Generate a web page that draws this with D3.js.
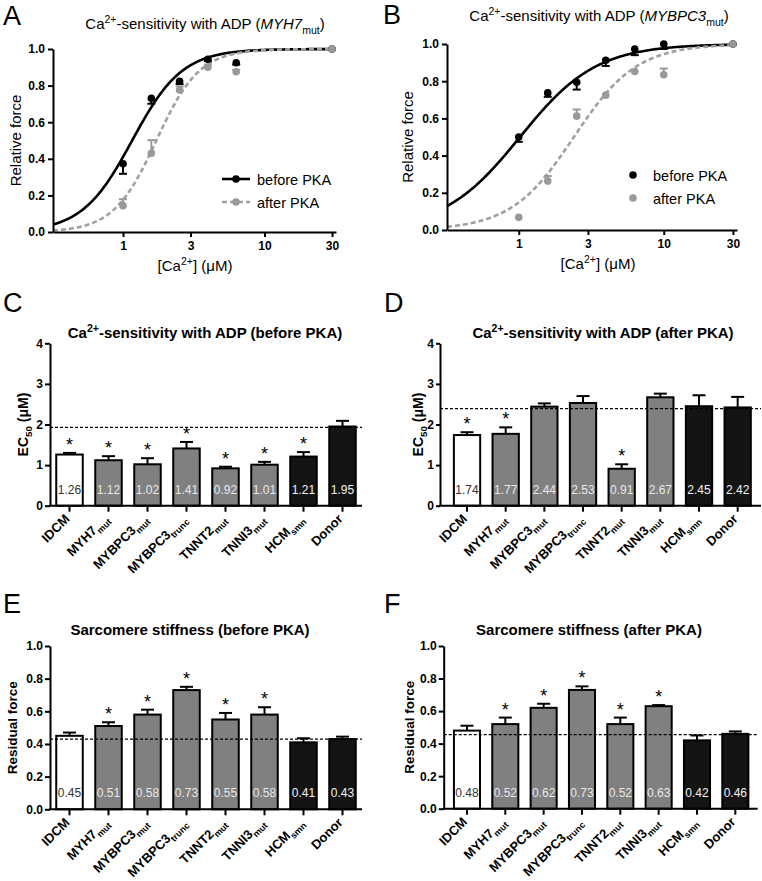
<!DOCTYPE html>
<html>
<head>
<meta charset="utf-8">
<script src="https://cdn.jsdelivr.net/npm/d3@7"></script>
<style>
  body { margin: 0; background: #fff; }
  svg text { font-family: "Liberation Sans", Arial, Helvetica, sans-serif; }
</style>
</head>
<body>
<svg id="fig" width="762" height="881"></svg>
<script>
// ---------- data: panel A (MYH7mut) ----------
var concA = [1, 1.585, 2.51, 3.98, 6.31, 30];
var beforeA = [0.373, 0.731, 0.824, 0.944, 0.925, 1.0];
var beforeAErr = [0.055, 0.03, 0.015, 0.01, 0.01, 0];
var afterA = [0.144, 0.43, 0.776, 0.90, 0.876, 1.0];
var afterAErr = [0.035, 0.072, 0.02, 0.015, 0.01, 0];
var fitEC50A = [1.16, 1.72];   // before, after
var fitHillA = [2.45, 2.85];

// ---------- data: panel B (MYBPC3mut) ----------
var concB = [1, 1.585, 2.51, 3.98, 6.31, 10, 30];
var beforeB = [0.50, 0.737, 0.794, 0.912, 0.973, 1.0, 1.0];
var beforeBErr = [0.026, 0.021, 0.039, 0.03, 0.033, 0.027, 0];
var afterB = [0.068, 0.263, 0.612, 0.725, 0.852, 0.835, 1.0];
var afterBErr = [0.0, 0.027, 0.036, 0.0, 0.0, 0.033, 0];
var fitEC50B = [1.02, 2.4];
var fitHillB = [1.65, 2.0];

var caTicks = [1, 3, 10, 30];
var forceTicks = [0, 0.2, 0.4, 0.6, 0.8, 1.0];

// ---------- data: bar panels ----------
var groupNames = ["IDCM", "MYH7", "MYBPC3", "MYBPC3", "TNNT2", "TNNI3", "HCM", "Donor"];
var groupSubs = ["", "mut", "mut", "trunc", "mut", "mut", "smn", ""];
var groupKind = ["idcm", "mut", "mut", "mut", "mut", "mut", "smn", "donor"];

var ec50Before = [1.26, 1.12, 1.02, 1.41, 0.92, 1.01, 1.21, 1.95];
var ec50BeforeErr = [0.04, 0.10, 0.15, 0.16, 0.04, 0.07, 0.11, 0.14];
var ec50BeforeSig = [1, 1, 1, 1, 1, 1, 1, 0];
var ec50BeforeRef = 1.93;

var ec50After = [1.74, 1.77, 2.44, 2.53, 0.91, 2.67, 2.45, 2.42];
var ec50AfterErr = [0.07, 0.16, 0.08, 0.17, 0.11, 0.09, 0.27, 0.26];
var ec50AfterSig = [1, 1, 0, 0, 1, 0, 0, 0];
var ec50AfterRef = 2.39;

var stiffBefore = [0.45, 0.51, 0.58, 0.73, 0.55, 0.58, 0.41, 0.43];
var stiffBeforeErr = [0.02, 0.023, 0.03, 0.02, 0.04, 0.045, 0.025, 0.015];
var stiffBeforeSig = [0, 1, 1, 1, 1, 1, 0, 0];
var stiffBeforeRef = 0.43;

var stiffAfter = [0.48, 0.52, 0.62, 0.73, 0.52, 0.63, 0.42, 0.46];
var stiffAfterErr = [0.03, 0.04, 0.025, 0.022, 0.04, 0.007, 0.03, 0.015];
var stiffAfterSig = [0, 1, 1, 1, 1, 1, 0, 0];
var stiffAfterRef = 0.455;

var ec50Ticks = [0, 1, 2, 3, 4];
var stiffTicks = [0, 0.2, 0.4, 0.6, 0.8, 1.0];

// ---------- helpers ----------
var svg = d3.select("#fig");
var FONT = '"Liberation Sans", Arial, Helvetica, sans-serif';

// text with super/subscript and italic pieces
function rich(text, parts) {
    var fs = +text.attr("font-size");
    var shift = 0;
    parts.forEach(function (p) {
        var ts = text.append("tspan").text(p.t);
        var target = p.sup ? -0.42 * fs : (p.sub ? 0.3 * fs : 0);
        if (target !== shift) ts.attr("dy", target - shift);
        shift = target;
        if (p.sup || p.sub) ts.attr("font-size", fs * 0.7);
        if (p.it) ts.attr("font-style", "italic");
    });
}

function styleAxis(g) {
    g.attr("font-family", FONT).attr("font-size", 12).attr("font-weight", "bold");
    g.selectAll("path, line").attr("stroke", "#000").attr("stroke-width", 2);
    g.selectAll("text").attr("fill", "#000");
}

function letter(x, y, s) {
    svg.append("text").attr("x", x).attr("y", y)
        .attr("font-size", 27).text(s);
}

function hill(c, ec, n) {
    return Math.pow(c, n) / (Math.pow(c, n) + Math.pow(ec, n));
}

// ---------- dose-response panels ----------
function drawDose(cfg) {
    var g = svg.append("g");
    var x = d3.scaleLog().domain([0.32, 32]).range(cfg.xr);
    var y = d3.scaleLinear().domain([0, 1]).range(cfg.yr);

    // fitted curves
    var cs = d3.range(0, 201).map(function (i) { return 0.32 * Math.pow(100, i / 200); });
    cs = cs.filter(function (c) { return x(c) <= cfg.xr[1]; });
    var line = d3.line().x(function (c) { return x(c[0]); }).y(function (c) { return y(c[1]); });
    g.append("path")
        .attr("d", line(cs.map(function (c) { return [c, hill(c, cfg.ec[0], cfg.n[0])]; })))
        .attr("fill", "none").attr("stroke", "#000").attr("stroke-width", 2.6);
    g.append("path")
        .attr("d", line(cs.map(function (c) { return [c, hill(c, cfg.ec[1], cfg.n[1])]; })))
        .attr("fill", "none").attr("stroke", "#a0a0a0").attr("stroke-width", 2.6)
        .attr("stroke-dasharray", "5,3");

    // points with one-sided error bars
    var series = [
        {vals: cfg.before, err: cfg.beforeErr, dir: -1, color: "#000"},
        {vals: cfg.after, err: cfg.afterErr, dir: 1, color: "#999"}
    ];
    series.forEach(function (s) {
        var pts = cfg.conc.map(function (c, i) { return {c: c, v: s.vals[i], e: s.err[i]}; });
        var eb = g.append("g").selectAll("g").data(pts.filter(function (d) { return d.e > 0; }))
            .enter().append("g");
        eb.append("line")
            .attr("x1", function (d) { return x(d.c); }).attr("x2", function (d) { return x(d.c); })
            .attr("y1", function (d) { return y(d.v); })
            .attr("y2", function (d) { return y(d.v + s.dir * d.e); })
            .attr("stroke", s.color).attr("stroke-width", 2);
        eb.append("line")
            .attr("x1", function (d) { return x(d.c) - 4; }).attr("x2", function (d) { return x(d.c) + 4; })
            .attr("y1", function (d) { return y(d.v + s.dir * d.e); })
            .attr("y2", function (d) { return y(d.v + s.dir * d.e); })
            .attr("stroke", s.color).attr("stroke-width", 2);
        g.append("g").selectAll("circle").data(pts).enter().append("circle")
            .attr("cx", function (d) { return x(d.c); })
            .attr("cy", function (d) { return y(d.v); })
            .attr("r", 3.8).attr("fill", s.color);
    });

    // axes
    g.append("g").attr("transform", "translate(0," + cfg.yr[0] + ")")
        .call(d3.axisBottom(x).tickValues(caTicks).tickFormat(d3.format("d"))
            .tickSize(5).tickSizeOuter(0).tickPadding(4))
        .call(styleAxis);
    g.append("g").attr("transform", "translate(" + cfg.xr[0] + ",0)")
        .call(d3.axisLeft(y).tickValues(forceTicks).tickFormat(d3.format(".1f"))
            .tickSize(5).tickSizeOuter(0).tickPadding(3))
        .call(styleAxis);

    // labels
    var yl = g.append("text").attr("font-size", 15).attr("text-anchor", "middle")
        .attr("transform", "translate(" + (cfg.ylabX + 5) + "," + (cfg.yr[0] + cfg.yr[1]) / 2 + ") rotate(-90)");
    yl.text("Relative force");
    var xl = g.append("text").attr("font-size", 15).attr("text-anchor", "middle")
        .attr("x", cfg.xlabX).attr("y", cfg.yr[0] + 39);
    rich(xl, [{t: "[Ca"}, {t: "2+", sup: true}, {t: "] (\u03bcM)"}]);
    var tl = g.append("text").attr("font-size", 15).attr("text-anchor", "middle")
        .attr("x", cfg.titleX).attr("y", cfg.titleY);
    rich(tl, [{t: "Ca"}, {t: "2+", sup: true}, {t: "-sensitivity with ADP ("},
        {t: cfg.gene, it: true}, {t: "mut", sub: true}, {t: ")"}]);

    // legend
    var lg = g.append("g");
    [["before PKA", "#000", false], ["after PKA", "#999", true]].forEach(function (d, i) {
        var ly = cfg.legY + i * 23;
        if (cfg.legLine) {
            lg.append("line").attr("x1", cfg.legX - 14).attr("x2", cfg.legX + 14)
                .attr("y1", ly).attr("y2", ly)
                .attr("stroke", d[1] === "#000" ? "#000" : "#a0a0a0").attr("stroke-width", 2.6)
                .attr("stroke-dasharray", d[2] ? "5,3" : null);
        }
        lg.append("circle").attr("cx", cfg.legX).attr("cy", ly).attr("r", 3.8).attr("fill", d[1]);
        lg.append("text").attr("x", cfg.legTextX).attr("y", ly + 5.5)
            .attr("font-size", 14.5).text(d[0]);
    });
}

// ---------- bar panels ----------
var kindFill = {idcm: "#ffffff", mut: "#808080", smn: "#141414", donor: "#141414"};
var kindText = {idcm: "#333333", mut: "#e8e8e8", smn: "#f2f2f2", donor: "#f2f2f2"};

function drawBars(cfg) {
    var g = svg.append("g");
    var x = d3.scaleBand().domain(d3.range(groupNames.length)).range(cfg.band)
        .paddingInner(0.32).paddingOuter(0.16);
    var y = d3.scaleLinear().domain([0, cfg.ymax]).range(cfg.yr);
    var y0 = cfg.yr[0];
    var data = cfg.vals.map(function (v, i) {
        return {i: i, v: v, e: cfg.err[i], s: cfg.sig[i], k: groupKind[i]};
    });

    // error bars (upper only)
    var eb = g.append("g").selectAll("g").data(data).enter().append("g");
    eb.append("line")
        .attr("x1", function (d) { return x(d.i) + x.bandwidth() / 2; })
        .attr("x2", function (d) { return x(d.i) + x.bandwidth() / 2; })
        .attr("y1", function (d) { return y(d.v); })
        .attr("y2", function (d) { return y(d.v + d.e); })
        .attr("stroke", "#000").attr("stroke-width", 2);
    eb.append("line")
        .attr("x1", function (d) { return x(d.i) + x.bandwidth() / 2 - 6.5; })
        .attr("x2", function (d) { return x(d.i) + x.bandwidth() / 2 + 6.5; })
        .attr("y1", function (d) { return y(d.v + d.e); })
        .attr("y2", function (d) { return y(d.v + d.e); })
        .attr("stroke", "#000").attr("stroke-width", 2);

    // bars
    g.append("g").selectAll("rect").data(data).enter().append("rect")
        .attr("x", function (d) { return x(d.i); })
        .attr("y", function (d) { return y(d.v); })
        .attr("width", x.bandwidth())
        .attr("height", function (d) { return y0 - y(d.v); })
        .attr("fill", function (d) { return kindFill[d.k]; })
        .attr("stroke", "#000").attr("stroke-width", 2);

    // value labels inside bars
    g.append("g").selectAll("text").data(data).enter().append("text")
        .attr("x", function (d) { return x(d.i) + x.bandwidth() / 2; })
        .attr("y", y0 - 12)
        .attr("text-anchor", "middle").attr("font-size", 12)
        .attr("fill", function (d) { return kindText[d.k]; })
        .text(function (d) { return d3.format(cfg.valFmt)(d.v); });

    // significance stars
    g.append("g").selectAll("text").data(data.filter(function (d) { return d.s; }))
        .enter().append("text")
        .attr("x", function (d) { return x(d.i) + x.bandwidth() / 2; })
        .attr("y", function (d) { return y(d.v + d.e) - 2; })
        .attr("text-anchor", "middle").attr("font-size", 18)
        .text("*");

    // reference (donor) dashed line
    g.append("line")
        .attr("x1", cfg.axisX).attr("x2", cfg.axisEnd)
        .attr("y1", y(cfg.ref)).attr("y2", y(cfg.ref))
        .attr("stroke", "#000").attr("stroke-width", 1.3).attr("stroke-dasharray", "3,2");

    // axes
    g.append("g").attr("transform", "translate(" + cfg.axisX + ",0)")
        .call(d3.axisLeft(y).tickValues(cfg.ticks).tickFormat(d3.format(cfg.tickFmt))
            .tickSize(cfg.tickSize).tickSizeOuter(0).tickPadding(2))
        .call(styleAxis);
    var xa = g.append("g").attr("transform", "translate(0," + y0 + ")")
        .call(d3.axisBottom(x).tickSize(6).tickSizeOuter(0).tickFormat(""))
        .call(styleAxis);
    xa.select(".domain").remove();
    g.append("line").attr("x1", cfg.axisX - 1).attr("x2", cfg.axisEnd)
        .attr("y1", y0).attr("y2", y0).attr("stroke", "#000").attr("stroke-width", 2);

    // rotated category labels
    data.forEach(function (d) {
        var cx = x(d.i) + x.bandwidth() / 2;
        var t = g.append("text").attr("font-size", 13).attr("font-weight", "bold")
            .attr("text-anchor", "end")
            .attr("transform", "translate(" + (cx + 1) + "," + (y0 + 14) + ") rotate(-45)");
        var parts = [{t: groupNames[d.i]}];
        if (groupSubs[d.i]) parts.push({t: groupSubs[d.i], sub: true});
        rich(t, parts);
    });

    // y label
    var yl = g.append("text").attr("font-size", cfg.ylabSize).attr("font-weight", "bold")
        .attr("text-anchor", "middle")
        .attr("transform", "translate(" + (cfg.ylabX + 5) + "," + (cfg.yr[0] + cfg.yr[1]) / 2 + ") rotate(-90)");
    rich(yl, cfg.ylab);

    // title
    var tl = g.append("text").attr("font-size", 15).attr("font-weight", "bold")
        .attr("text-anchor", "middle").attr("x", cfg.titleX).attr("y", cfg.titleY);
    rich(tl, cfg.title);
}

// ---------- draw ----------
letter(3, 25, "A");
drawDose({
    xr: [53, 336], yr: [232, 49], conc: concA,
    before: beforeA, beforeErr: beforeAErr, after: afterA, afterErr: afterAErr,
    ec: fitEC50A, n: fitHillA, gene: "MYH7",
    ylabX: 16, xlabX: 195, titleX: 205, titleY: 29,
    legLine: true, legX: 236, legTextX: 257, legY: 179
});

letter(383, 24, "B");
drawDose({
    xr: [447, 737], yr: [230, 44], conc: concB,
    before: beforeB, beforeErr: beforeBErr, after: afterB, afterErr: afterBErr,
    ec: fitEC50B, n: fitHillB, gene: "MYBPC3",
    ylabX: 408, xlabX: 598, titleX: 599, titleY: 21,
    legLine: false, legX: 633, legTextX: 653, legY: 175
});

var ec50Label = [{t: "EC"}, {t: "50", sub: true}, {t: " (\u03bcM)"}];

letter(3, 312, "C");
drawBars({
    vals: ec50Before, err: ec50BeforeErr, sig: ec50BeforeSig, ref: ec50BeforeRef,
    band: [50, 362], axisX: 50, axisEnd: 362, yr: [505.7, 343.3], ymax: 4,
    ticks: ec50Ticks, tickFmt: "d", valFmt: ".2f", tickSize: 5,
    ylab: ec50Label, ylabX: 23, ylabSize: 14,
    title: [{t: "Ca"}, {t: "2+", sup: true}, {t: "-sensitivity with ADP (before PKA)"}],
    titleX: 205, titleY: 338
});

letter(384, 312, "D");
drawBars({
    vals: ec50After, err: ec50AfterErr, sig: ec50AfterSig, ref: ec50AfterRef,
    band: [447.7, 757], axisX: 440, axisEnd: 761, yr: [505.7, 343.3], ymax: 4,
    ticks: ec50Ticks, tickFmt: "d", valFmt: ".2f", tickSize: 4,
    ylab: ec50Label, ylabX: 418, ylabSize: 14,
    title: [{t: "Ca"}, {t: "2+", sup: true}, {t: "-sensitivity with ADP (after PKA)"}],
    titleX: 603, titleY: 338
});

letter(3, 613, "E");
drawBars({
    vals: stiffBefore, err: stiffBeforeErr, sig: stiffBeforeSig, ref: stiffBeforeRef,
    band: [50, 362], axisX: 50, axisEnd: 362, yr: [809.3, 646], ymax: 1,
    ticks: stiffTicks, tickFmt: ".1f", valFmt: ".2f", tickSize: 5,
    ylab: [{t: "Residual force"}], ylabX: 12, ylabSize: 13.5,
    title: [{t: "Sarcomere stiffness (before PKA)"}],
    titleX: 190, titleY: 635
});

letter(384, 613, "F");
drawBars({
    vals: stiffAfter, err: stiffAfterErr, sig: stiffAfterSig, ref: stiffAfterRef,
    band: [447.8, 754.5], axisX: 443.7, axisEnd: 757.7, yr: [808.7, 646], ymax: 1,
    ticks: stiffTicks, tickFmt: ".1f", valFmt: ".2f", tickSize: 5,
    ylab: [{t: "Residual force"}], ylabX: 409, ylabSize: 13.5,
    title: [{t: "Sarcomere stiffness (after PKA)"}],
    titleX: 589, titleY: 635
});
</script>
</body>
</html>
